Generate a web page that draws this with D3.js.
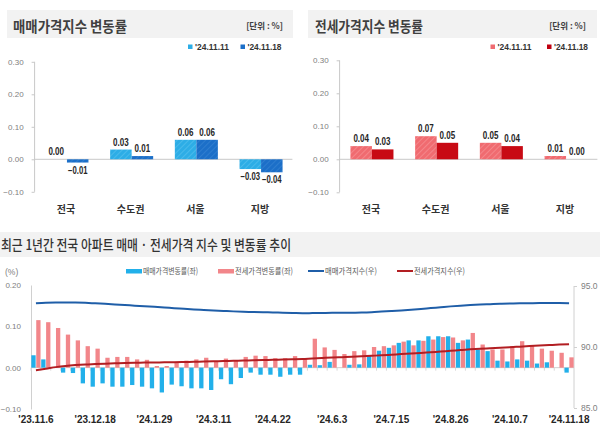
<!DOCTYPE html>
<html><head><meta charset="utf-8">
<script src="https://cdn.jsdelivr.net/npm/d3@7"></script>
<style>
html,body{margin:0;padding:0;background:#fff;}
svg{display:block;}
text{font-family:"Liberation Sans","Noto Sans CJK KR",sans-serif;}
.kr{font-family:"Noto Sans CJK KR","Noto Sans",sans-serif;}
</style></head>
<body>
<svg id="c" width="600" height="435"></svg>
<script>
// ---------- data ----------
const topCategories = ["전국", "수도권", "서울", "지방"];
const topSeries = ["'24.11.11", "'24.11.18"];
const saleRate1111 = [0.00, 0.03, 0.06, -0.03];
const saleRate1118 = [-0.01, 0.01, 0.06, -0.04];
const jeonseRate1111 = [0.04, 0.07, 0.05, 0.01];
const jeonseRate1118 = [0.03, 0.05, 0.04, 0.00];
const topTicks = [-0.10, 0.00, 0.10, 0.20, 0.30];

const weeks = ["'23.11.6","'23.11.13","'23.11.20","'23.11.27","'23.12.4","'23.12.11","'23.12.18","'23.12.25",
 "'24.1.1","'24.1.8","'24.1.15","'24.1.22","'24.1.29","'24.2.5","'24.2.12","'24.2.19","'24.2.26",
 "'24.3.4","'24.3.11","'24.3.18","'24.3.25","'24.4.1","'24.4.8","'24.4.15","'24.4.22","'24.4.29",
 "'24.5.6","'24.5.13","'24.5.20","'24.5.27","'24.6.3","'24.6.10","'24.6.17","'24.6.24",
 "'24.7.1","'24.7.8","'24.7.15","'24.7.22","'24.7.29","'24.8.5","'24.8.12","'24.8.19","'24.8.26",
 "'24.9.2","'24.9.9","'24.9.16","'24.9.23","'24.9.30","'24.10.7","'24.10.14","'24.10.21","'24.10.28",
 "'24.11.4","'24.11.11","'24.11.18"];
const weekTickLabels = ["'23.11.6","'23.12.18","'24.1.29","'24.3.11","'24.4.22","'24.6.3","'24.7.15","'24.8.26","'24.10.7","'24.11.18"];
const saleRateWeekly = [0.03,0.02,0.00,-0.012,-0.013,-0.038,-0.046,-0.038,-0.046,-0.046,-0.042,-0.046,-0.05,-0.06,-0.041,-0.045,-0.05,-0.05,-0.054,-0.028,
 -0.04,-0.025,-0.012,-0.017,-0.017,-0.022,-0.017,-0.017,0.007,0.006,0.014,0.00,0.007,0.008,0.03,0.041,0.048,0.06,0.066,0.066,
 0.076,0.076,0.076,0.06,0.068,0.044,0.04,0.017,0.015,0.02,0.017,0.01,0.013,0.00,-0.012];
const jeonseRateWeekly = [0.115,0.11,0.096,0.08,0.066,0.052,0.046,0.024,0.026,0.026,0.02,0.019,0.004,0.004,0.012,0.017,0.02,0.024,0.016,0.022,
 0.018,0.026,0.029,0.028,0.023,0.023,0.028,0.021,0.07,0.049,0.043,0.033,0.04,0.042,0.05,0.052,0.054,0.063,0.054,0.065,
 0.068,0.074,0.073,0.066,0.084,0.056,0.044,0.044,0.052,0.064,0.053,0.046,0.041,0.036,0.025];
const saleIndex = [93.58,93.62,93.64,93.65,93.64,93.62,93.58,93.54,93.49,93.44,93.39,93.34,93.29,93.24,93.18,93.13,93.08,93.04,93.00,92.96,
 92.92,92.89,92.87,92.85,92.83,92.81,92.79,92.77,92.78,92.79,92.80,92.80,92.81,92.82,92.85,92.90,92.95,93.00,93.06,93.12,
 93.19,93.26,93.33,93.39,93.44,93.48,93.51,93.54,93.56,93.58,93.59,93.60,93.60,93.60,93.59];
const jeonseIndex = [88.10,88.22,88.35,88.45,88.52,88.57,88.60,88.63,88.66,88.69,88.71,88.72,88.73,88.74,88.75,88.77,88.79,88.81,88.83,88.85,
 88.87,88.89,88.91,88.93,88.95,88.97,88.99,89.01,89.06,89.10,89.14,89.17,89.20,89.24,89.28,89.32,89.37,89.42,89.46,89.51,
 89.57,89.63,89.69,89.75,89.81,89.86,89.90,89.94,89.98,90.03,90.08,90.12,90.16,90.20,90.23];
const leftTicks = [-0.10, 0.00, 0.10, 0.20];
const rightTicks = [85.0, 90.0, 95.0];
const legendLabels = ["매매가격변동률(좌)", "전세가격변동률(좌)", "매매가격지수(우)", "전세가격지수(우)"];

// ---------- drawing ----------
const svg = d3.select("#c");
const defs = svg.append("defs");
function hatch(id, base, stripe){
  const p = defs.append("pattern").attr("id", id).attr("patternUnits","userSpaceOnUse")
    .attr("width", 4).attr("height", 4).attr("patternTransform","rotate(45)");
  p.append("rect").attr("width",4).attr("height",4).attr("fill",base);
  p.append("line").attr("x1",0).attr("y1",0).attr("x2",0).attr("y2",4).attr("stroke",stripe).attr("stroke-width",1.2);
}
hatch("hLB", "#2dade6", "#5cc3ef");
hatch("hDB", "#1c6fc8", "#3a86d4");
hatch("hLR", "#f06b70", "#f7989b");

const fmt = d3.format(".2f");

function topChart(opt){
  const g = svg.append("g");
  g.append("rect").attr("x", opt.bgX).attr("y", 10).attr("width", opt.bgW).attr("height", 28).attr("fill", "#f2f2f2");
  g.append("text").attr("class","kr").attr("x", opt.titleX).attr("y", 32).attr("font-size", 15).attr("font-weight", 700)
    .attr("fill", "#404040").attr("textLength", opt.titleW).attr("lengthAdjust","spacingAndGlyphs").text(opt.title);
  g.append("text").attr("class","kr").attr("x", opt.unitX).attr("y", 29).attr("text-anchor","end")
    .attr("font-size", 8.5).attr("font-weight", 700).attr("fill", "#404040").text("[단위 : %]");
  // legend
  topSeries.forEach((s, i) => {
    g.append("rect").attr("x", opt.legX[i]).attr("y", 44.5).attr("width", 4.5).attr("height", 4.5).attr("fill", opt.colors[i]);
    g.append("text").attr("x", opt.legX[i] + 7).attr("y", 50).attr("font-size", 9).attr("font-weight", 700)
      .attr("fill", "#333").attr("textLength", 34).attr("lengthAdjust","spacingAndGlyphs").text(s);
  });
  const y = d3.scaleLinear().domain([-0.1, 0.3]).range([opt.y0 + opt.unit, opt.y0 - 3 * opt.unit]);
  const x = d3.scaleBand().domain(topCategories).range(opt.xRange).paddingInner(0.335).paddingOuter(0.1675);
  const x1 = d3.scaleBand().domain([0, 1]).range([0, x.bandwidth()]);
  // y axis
  const ya = g.append("g").attr("transform", `translate(${opt.xRange[0]},0)`)
    .call(d3.axisLeft(y).tickValues(topTicks).tickSize(3).tickPadding(8).tickFormat(fmt));
  ya.select(".domain").attr("stroke", "#c8c8c8").attr("d", `M-0,${y(0.3)}V${y(-0.1)}`);
  ya.selectAll(".tick line").attr("stroke", "#c8c8c8");
  ya.selectAll(".tick text").attr("font-size", 8).attr("fill", "#808080");
  // zero line
  g.append("line").attr("x1", opt.xRange[0]).attr("x2", opt.xRange[1] - 1).attr("y1", y(0)).attr("y2", y(0)).attr("stroke", "#c8c8c8");
  // bars
  const rows = topCategories.map((c, i) => ({c, v: [opt.s1[i], opt.s2[i]]}));
  rows.forEach(r => {
    r.v.forEach((v, k) => {
      const bx = x(r.c) + x1(k);
      g.append("rect").attr("x", bx).attr("width", x1.bandwidth())
        .attr("y", y(Math.max(0, v))).attr("height", Math.abs(y(v) - y(0)))
        .attr("fill", opt.fills[k]);
      const s = fmt(v);
      const tw = s.length * 3.9;
      g.append("text").attr("x", bx + x1.bandwidth() / 2 - tw / 2)
        .attr("y", v < 0 ? y(v) + 11 : y(v) - 4)
        .attr("font-size", 10).attr("font-weight", 700)
        .attr("fill", "#262626").attr("textLength", tw).attr("lengthAdjust","spacingAndGlyphs").text(s);
    });
    g.append("text").attr("class","kr").attr("x", x(r.c) + x.bandwidth() / 2 - 1).attr("y", 213)
      .attr("text-anchor","middle").attr("font-size", 10).attr("font-weight", 700).attr("fill", "#333").text(r.c);
  });
}

topChart({title:"매매가격지수 변동률", bgX:7, bgW:286, titleX:13, titleW:114, unitX:283,
  legX:[188, 240.5], colors:["#2dade6","#1c6fc8"], fills:["url(#hLB)","url(#hDB)"],
  y0:159.3, unit:32.5, xRange:[34.6, 293.4], s1:saleRate1111, s2:saleRate1118});
topChart({title:"전세가격지수 변동률", bgX:308, bgW:289, titleX:315, titleW:108, unitX:586,
  legX:[490.5, 547], colors:["#f06b70","#c00010"], fills:["url(#hLR)","#c80a14"],
  y0:159.3, unit:33, xRange:[339.6, 598.4], s1:jeonseRate1111, s2:jeonseRate1118});

// ---------- bottom chart ----------
const bg = svg.append("g");
bg.append("rect").attr("x", 0).attr("y", 232).attr("width", 600).attr("height", 25).attr("fill", "#f2f2f2");
bg.append("text").attr("class","kr").attr("x", 1).attr("y", 250).attr("font-size", 14).attr("font-weight", 500)
  .attr("fill", "#333").attr("textLength", 290).attr("lengthAdjust","spacingAndGlyphs")
  .text("최근 1년간 전국 아파트 매매 · 전세가격 지수 및 변동률 추이");

const xB = d3.scaleBand().domain(weeks).range([31, 574]).padding(0);
const yL = d3.scaleLinear().domain([-0.1, 0.2]).range([409, 285]);
const yR = d3.scaleLinear().domain([85, 95]).range([408, 286]);
const cBlueBar = "#22b0ea", cRedBar = "#f2868a", cBlueLine = "#1f5ea8", cRedLine = "#b21e22";

// legend
bg.append("text").attr("x", 5).attr("y", 275).attr("font-size", 8.5).attr("fill", "#808080").text("(%)");
const legX = [126, 218, 308, 397];
const legW = [55, 58, 52, 51];
legendLabels.forEach((t, i) => {
  if (i < 2) bg.append("rect").attr("x", legX[i]).attr("y", 269).attr("width", 16).attr("height", 4.5).attr("fill", i ? cRedBar : cBlueBar);
  else bg.append("line").attr("x1", legX[i]).attr("x2", legX[i] + 16).attr("y1", 271).attr("y2", 271)
        .attr("stroke", i === 2 ? cBlueLine : cRedLine).attr("stroke-width", 2);
  bg.append("text").attr("class","kr").attr("x", legX[i] + 17).attr("y", 274).attr("font-size", 8.5).attr("fill", "#595959")
    .attr("textLength", legW[i]).attr("lengthAdjust","spacingAndGlyphs").text(t);
});

// axes
const la = bg.append("g").attr("transform", "translate(31,0)")
  .call(d3.axisLeft(yL).tickValues(leftTicks).tickSize(0).tickPadding(10).tickFormat(fmt));
la.select(".domain").attr("stroke", "#d0d0d0");
la.selectAll(".tick text").attr("font-size", 8).attr("fill", "#808080");
const ra = bg.append("g").attr("transform", "translate(574,0)")
  .call(d3.axisRight(yR).tickValues(rightTicks).tickSize(3).tickPadding(4).tickFormat(d3.format(".1f")));
ra.select(".domain").attr("stroke", "#d0d0d0").attr("d", `M0,${yR(95)}V${yR(85)}`);
ra.selectAll(".tick line").attr("stroke", "#d0d0d0");
ra.selectAll(".tick text").attr("font-size", 8.5).attr("fill", "#808080");

// zero line with ticks
const xa = bg.append("g").attr("transform", `translate(0,${yL(0)})`)
  .call(d3.axisBottom(xB).tickValues(weeks).tickSize(3).tickFormat(""));
xa.select(".domain").attr("stroke", "#d0d0d0").attr("d", `M31,0H574`);
xa.selectAll(".tick line").attr("stroke", "#d8d8d8").attr("transform", `translate(${-xB.step()/2},0)`);

// bars
const bw = 4.3;
bg.append("g").selectAll("rect").data(weeks).join("rect")
  .attr("x", d => xB(d) + xB.bandwidth() / 2 - bw - 0.3)
  .attr("width", bw)
  .attr("y", (d, i) => yL(Math.max(0, saleRateWeekly[i])))
  .attr("height", (d, i) => Math.abs(yL(saleRateWeekly[i]) - yL(0)))
  .attr("fill", cBlueBar);
bg.append("g").selectAll("rect").data(weeks).join("rect")
  .attr("x", d => xB(d) + xB.bandwidth() / 2 + 0.3)
  .attr("width", bw)
  .attr("y", (d, i) => yL(Math.max(0, jeonseRateWeekly[i])))
  .attr("height", (d, i) => Math.abs(yL(jeonseRateWeekly[i]) - yL(0)))
  .attr("fill", cRedBar);

// lines
const lineGen = arr => d3.line().x((d, i) => xB(weeks[i]) + xB.bandwidth() / 2).y(d => yR(d)).curve(d3.curveMonotoneX)(arr);
bg.append("path").attr("d", lineGen(saleIndex)).attr("fill", "none").attr("stroke", cBlueLine).attr("stroke-width", 2);
bg.append("path").attr("d", lineGen(jeonseIndex)).attr("fill", "none").attr("stroke", cRedLine).attr("stroke-width", 2);

// x labels
const xl = bg.append("g").attr("transform", "translate(0,416)")
  .call(d3.axisBottom(xB).tickValues(weekTickLabels).tickSize(0).tickPadding(0));
xl.select(".domain").remove();
xl.selectAll(".tick text").attr("font-size", 10).attr("font-weight", 700).attr("fill", "#262626").attr("dy", "0.71em");
</script>
</body></html>
